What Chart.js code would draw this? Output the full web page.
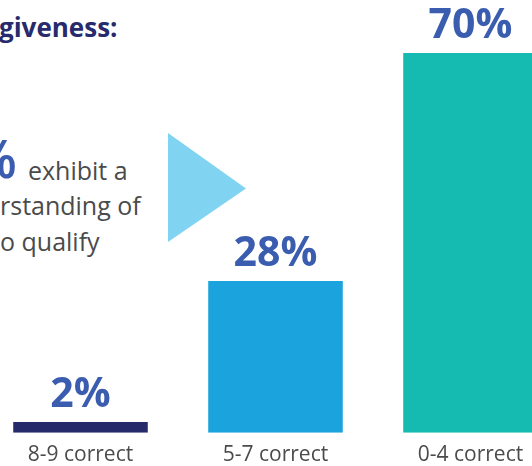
<html>

<head>
	<title>Loan forgiveness understanding</title>
	<script src="https://cdn.jsdelivr.net/npm/chart.js@4.4.0/dist/chart.umd.min.js"></script>
	<style>
		* {
			box-sizing: border-box;
		}

		body {
			margin: 0;
			width: 532px;
			height: 466px;
			overflow: hidden;
			position: relative;
			background: #fff;
			font-family: 'Open Sans', sans-serif;
		}

		#wrap {
			position: absolute;
			left: -17px;
			top: 0;
			width: 585px;
			height: 478px;
		}

		.txt {
			position: absolute;
			white-space: nowrap;
		}

		.title {
			left: -1px;
			top: 14px;
			font-size: 26px;
			line-height: 26px;
			font-weight: 700;
			color: #272b6d;
		}

		.pct {
			left: -28px;
			top: 132px;
			font-size: 52px;
			line-height: 52px;
			font-weight: 600;
			color: #3a5daf;
		}

		.body {
			font-size: 25px;
			line-height: 25px;
			color: #4b4b4b;
		}

		.arrow {
			position: absolute;
			left: 168px;
			top: 133px;
			width: 78px;
			height: 109px;
			background: #80d4f2;
			clip-path: polygon(0 0, 100% 51%, 0 100%);
		}
	</style>
</head>

<body>
	<div class="txt title">giveness:</div>
	<div class="txt pct">%</div>
	<div class="txt body" style="left: 28px; top: 158px;">exhibit a</div>
	<div class="txt body" style="left: 0px; top: 193px;">rstanding of</div>
	<div class="txt body" style="left: 0px; top: 229px;">o qualify</div>
	<div class="arrow"></div>
	<div id="wrap">
		<canvas id="canvas" role="img" aria-label="Share of respondents by number of correct answers"></canvas>
	</div>
	<script>
		const categories = ['8-9 correct', '5-7 correct', '0-4 correct'];
		const shares = [2, 28, 70];
		const barColors = ['#252a6a', '#1ba3dd', '#15bbb0'];

		// draws the big % values above each bar
		const valueLabels = {
			id: 'valueLabels',
			afterDatasetsDraw(chart) {
				const ctx = chart.ctx;
				const meta = chart.getDatasetMeta(0);
				ctx.save();
				ctx.font = "bold 41px 'Open Sans'";
				ctx.fillStyle = '#3a5daf';
				ctx.textAlign = 'center';
				ctx.textBaseline = 'alphabetic';
				meta.data.forEach((bar, i) => {
					ctx.fillText(`${shares[i]}%`, bar.x, bar.y - 15);
				});
				ctx.restore();
			}
		};

		new Chart(document.getElementById('canvas'), {
			type: 'bar',
			data: {
				labels: categories,
				datasets: [{
					data: shares,
					backgroundColor: barColors,
					borderWidth: 0,
					barPercentage: 0.69,
					categoryPercentage: 1,
				}],
			},
			options: {
				responsive: true,
				maintainAspectRatio: false,
				animation: false,
				layout: {
					padding: { top: 53, left: 0, right: 0, bottom: 0 },
				},
				scales: {
					x: {
						grid: { display: false, drawTicks: false, tickLength: 0 },
						border: { display: false },
						ticks: {
							padding: 10,
							color: '#4b4b4b',
							font: { family: "'Open Sans'", size: 21 },
						},
					},
					y: {
						display: false,
						min: 0,
						max: 70,
					},
				},
				plugins: {
					legend: { display: false },
					tooltip: { enabled: false },
				},
			},
			plugins: [valueLabels],
		});
	</script>
</body>

</html>
